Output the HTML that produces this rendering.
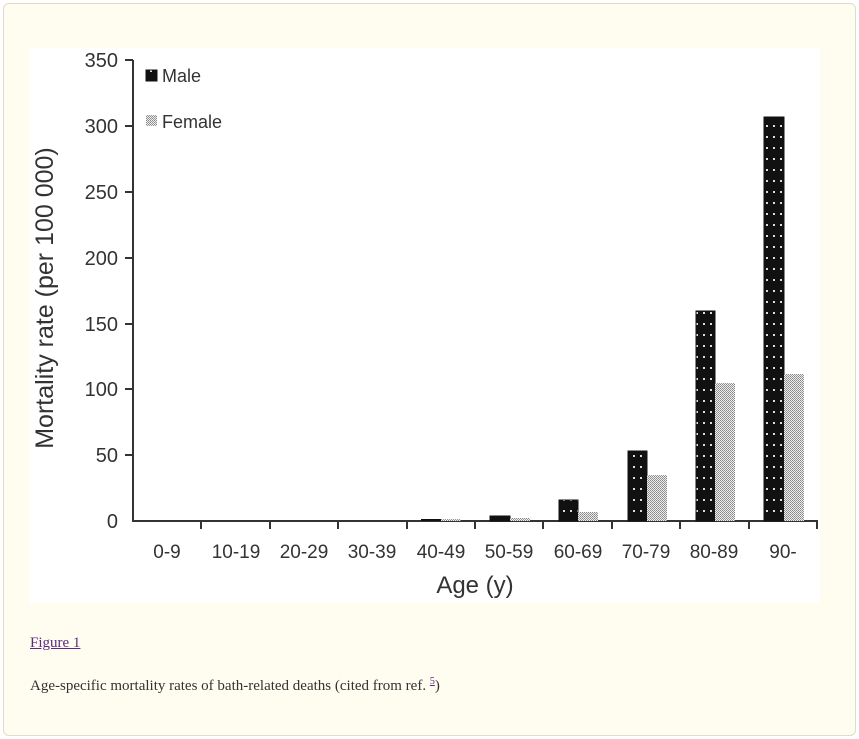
<!DOCTYPE html>
<html><head><style>
body{margin:0;width:859px;height:739px;background:#fff;overflow:hidden}
.box{position:absolute;left:3px;top:3px;width:851px;height:731px;border:1px solid #e0dcc8;border-radius:6px;background:#fffdf0}
.fig{position:absolute;left:30px;top:48px;width:790px;height:555px;background:#fff}
.cap{position:absolute;font-family:"Liberation Serif",serif;font-size:15px;color:#333}
</style></head><body>
<div class="box"></div>
<div class="fig"></div>
<svg width="859" height="739" style="position:absolute;left:0;top:0">
<defs>
<pattern id="m" width="7" height="11" patternUnits="userSpaceOnUse"><rect width="7" height="11" fill="#111"/><rect x="3" y="4" width="2" height="2" fill="#ddd"/></pattern>
<pattern id="f" width="2" height="2" patternUnits="userSpaceOnUse"><rect width="2" height="2" fill="#eee"/><rect width="1" height="1" fill="#888"/><rect x="1" y="1" width="1" height="1" fill="#999"/></pattern>
</defs>
<g font-family="Liberation Sans,sans-serif" fill="#333">
<line x1="133" y1="60" x2="133" y2="522" stroke="#333" stroke-width="2"/>
<line x1="132" y1="521" x2="818" y2="521" stroke="#333" stroke-width="2"/>
<g stroke="#333" stroke-width="2">
<line x1="125" y1="60" x2="133" y2="60"/><line x1="125" y1="126" x2="133" y2="126"/><line x1="125" y1="192" x2="133" y2="192"/><line x1="125" y1="258" x2="133" y2="258"/><line x1="125" y1="324" x2="133" y2="324"/><line x1="125" y1="389" x2="133" y2="389"/><line x1="125" y1="455" x2="133" y2="455"/>
<line x1="201" y1="521" x2="201" y2="529"/><line x1="270" y1="521" x2="270" y2="529"/><line x1="338" y1="521" x2="338" y2="529"/><line x1="407" y1="521" x2="407" y2="529"/><line x1="475" y1="521" x2="475" y2="529"/><line x1="543" y1="521" x2="543" y2="529"/><line x1="612" y1="521" x2="612" y2="529"/><line x1="680" y1="521" x2="680" y2="529"/><line x1="749" y1="521" x2="749" y2="529"/><line x1="817" y1="521" x2="817" y2="529"/>
</g>
<g font-size="20" text-anchor="end">
<text x="118" y="67">350</text><text x="118" y="133">300</text><text x="118" y="199">250</text><text x="118" y="265">200</text><text x="118" y="331">150</text><text x="118" y="396">100</text><text x="118" y="462">50</text><text x="118" y="528">0</text>
</g>
<g font-size="19" text-anchor="middle">
<text x="167" y="558">0-9</text><text x="236" y="558">10-19</text><text x="304" y="558">20-29</text><text x="372" y="558">30-39</text><text x="441" y="558">40-49</text><text x="509" y="558">50-59</text><text x="578" y="558">60-69</text><text x="646" y="558">70-79</text><text x="714" y="558">80-89</text><text x="783" y="558">90-</text>
</g>
<text x="475" y="593" font-size="24" text-anchor="middle">Age (y)</text>
<text transform="translate(53,298) rotate(-90)" font-size="25" text-anchor="middle">Mortality rate (per 100 000)</text>
<rect x="146" y="70" width="11" height="11" fill="url(#m)" stroke="#111"/><text x="162" y="82" font-size="18">Male</text>
<rect x="146" y="115" width="11" height="11" fill="url(#f)"/><text x="162" y="128" font-size="18">Female</text>
<g>
<rect x="421" y="519" width="20" height="2" fill="#111"/><rect x="441" y="519" width="20" height="2" fill="url(#f)"/>
<rect x="490" y="516" width="20" height="5" fill="url(#m)" stroke="#111"/><rect x="510" y="518" width="20" height="3" fill="url(#f)"/>
<rect x="559" y="500" width="19" height="21" fill="url(#m)" stroke="#111"/><rect x="578" y="512" width="20" height="9" fill="url(#f)"/>
<rect x="628" y="451" width="19" height="70" fill="url(#m)" stroke="#111"/><rect x="647" y="475" width="20" height="46" fill="url(#f)"/>
<rect x="696" y="311" width="19" height="210" fill="url(#m)" stroke="#111"/><rect x="715" y="383" width="20" height="138" fill="url(#f)"/>
<rect x="764" y="117" width="20" height="404" fill="url(#m)" stroke="#111"/><rect x="784" y="374" width="20" height="147" fill="url(#f)"/>
</g>
</g>
</svg>
<div class="cap" style="left:30px;top:635px;color:#5b2a86;text-decoration:underline">Figure 1</div>
<div class="cap" style="left:30px;top:676px;font-size:15px">Age-specific mortality rates of bath-related deaths (cited from ref. <sup style="font-size:10px;color:#5b2a86;text-decoration:underline">5</sup>)</div>
</body></html>
